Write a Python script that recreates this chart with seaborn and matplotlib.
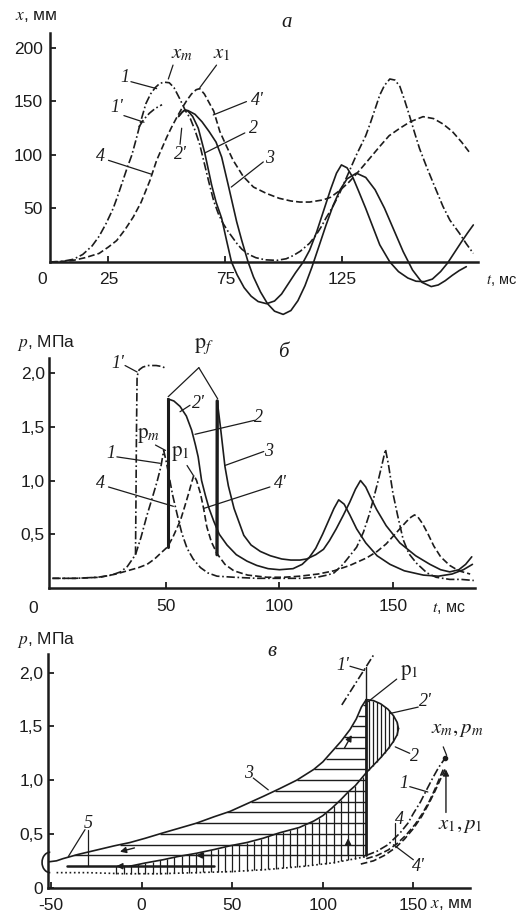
import numpy as np
import matplotlib
matplotlib.use('Agg')
import matplotlib.pyplot as plt
from matplotlib.patches import Arc
import seaborn as sns

# ---------------- panel a: x(t), mm ----------------
t_a1 = [0, 5, 10, 14, 18, 21, 24, 27, 29, 31, 33, 35, 37, 39, 41, 43, 45, 47, 49, 51, 53, 55.6, 58, 60,
        62, 64, 66, 68, 70, 72, 74, 76, 78, 80, 82, 85, 88, 92, 97, 101, 104, 107, 111, 114, 116, 118,
        121, 124, 127, 129, 131, 133, 135, 137, 139, 141, 143, 145.3, 147.5, 149.6, 151.5, 153.8, 156,
        158, 161, 164, 168, 171, 175, 178, 181]
x_a1 = [0, 0.5, 2.5, 7, 15, 24, 36, 50, 62, 75, 88, 100, 116, 133, 148, 157, 163, 167, 168, 167.5, 163,
        152, 141, 134, 123, 110, 92, 74, 57, 45, 36, 29, 23, 17, 12, 7, 4, 2, 1.5, 3, 6, 10, 17.5, 26,
        33, 41, 52, 65, 80, 90, 100, 109, 118, 130, 143, 156, 165, 171, 170, 164, 152, 136, 120, 106,
        89, 73, 52, 39, 27, 17, 8]
t_a1p = [38, 40, 42.5, 45, 47.9]
x_a1p = [126, 133, 139, 143.5, 147]
t_a4 = [0, 5, 10, 15, 21, 25, 28.5, 32, 35.6, 39, 42.7, 45.6, 48, 50, 52, 54.3, 56.5, 58.5, 60.5, 62.5,
        64, 66, 68, 70, 72.6, 75.5, 78.3, 82.6, 87, 92.6, 98, 103, 106.8, 111, 116.8, 120, 124, 128,
        132.5, 136, 141, 145, 149.6, 154, 159.5, 164, 168, 172, 176, 179.5]
x_a4 = [0, 0.5, 1.5, 4, 8, 14, 20, 30, 42, 56, 76, 95, 107, 117, 126, 135.5, 144, 151, 157, 161, 162,
        157, 149, 141, 122, 108, 95, 80, 70, 64, 59.5, 57, 56, 56, 58, 60.5, 67, 75, 86, 95, 108, 118,
        125, 131, 135.8, 134, 129, 122, 112, 102]
t_a2 = [55, 56.5, 57.7, 59, 61, 63.4, 66.2, 69.1, 71, 73.4, 75.5, 77.6, 80, 83, 86, 89, 92.6, 96, 99,
        102, 105, 108.3, 111, 114, 117, 120, 122.5, 124.6, 127, 129.5, 132, 135, 138, 141, 145.3, 149,
        153, 156.5, 160, 163.5, 167, 170, 173, 176, 178.5, 181]
x_a2 = [136, 140, 142, 141, 136, 125, 101.6, 72, 56, 40.8, 20, 0, -12, -24, -32, -37, -39, -36.5, -30,
        -20, -10, 0, 11, 28, 48, 68, 83, 90.7, 88, 79, 66, 50, 33, 16, 0, -9, -15, -18, -18.4, -16, -9,
        -1, 9, 19, 27, 34.6]
t_a3 = [55, 56.5, 57.7, 59, 62, 65, 68, 71, 73.4, 76.2, 79.8, 82, 84.7, 87, 90, 93, 96, 99.7, 103, 106,
        109, 112, 115, 118, 121, 124, 127, 131, 135, 139, 143, 147, 151, 155, 159, 163, 166, 169, 172,
        175, 178]
x_a3 = [136, 140, 142, 141.5, 138, 131, 122, 112, 98, 72, 37.7, 20, 0, -14, -28, -39, -46, -49, -45.4,
        -36.2, -22.3, -4.8, 14.7, 34.3, 52.5, 67.3, 77.7, 83, 79, 67.5, 50.3, 30, 9.7, -7.5, -19, -23,
        -21.5, -17.5, -12.5, -8, -4.4]

# ---------------- panel б: p(t), MPa ----------------
t_b1 = [0, 10, 20, 26, 30, 33, 36.6, 39, 41.7, 44, 46.1, 47.8, 49, 50.2, 51.2, 53, 55, 57, 59.3, 62,
        65.2, 68.5, 72.5, 80, 90, 100, 110, 116.5, 121, 124, 128, 131, 134, 137, 139.5, 141.3, 143.5,
        145.3, 146.7, 148, 150, 152, 154.5, 157, 160.4, 165, 169, 175, 180, 185.6]
p_b1 = [0.09, 0.09, 0.1, 0.12, 0.15, 0.2, 0.31, 0.47, 0.68, 0.84, 0.99, 1.13, 1.28, 1.17, 1.06, 0.86,
        0.68, 0.51, 0.37, 0.27, 0.19, 0.14, 0.11, 0.1, 0.09, 0.09, 0.09, 0.1, 0.12, 0.14, 0.22, 0.3,
        0.38, 0.52, 0.68, 0.82, 1.0, 1.16, 1.29, 1.15, 0.88, 0.68, 0.45, 0.32, 0.23, 0.14, 0.1, 0.08,
        0.08, 0.07]
t_b1p = [36.6, 36.8, 37.0, 37.3, 38.2, 39.8, 42, 45.7, 48.5, 50.1]
p_b1p = [0.31, 0.8, 1.4, 1.97, 2.03, 2.055, 2.07, 2.07, 2.06, 2.04]
t_b4 = [0, 10, 21, 28, 33, 38, 41.7, 45, 48, 50.6, 53, 56.4, 58.3, 60, 61.3, 62.3, 63.5, 65.2, 66.6, 68,
        70, 72.5, 76, 79.9, 86, 94.5, 102, 109, 117, 124, 131, 138.4, 143, 147, 150, 153, 156, 158,
        159.5, 161, 163, 165.5, 168, 171, 175, 179, 184]
p_b4 = [0.09, 0.09, 0.1, 0.13, 0.16, 0.19, 0.22, 0.27, 0.33, 0.38, 0.47, 0.63, 0.76, 0.88, 0.98, 1.05,
        1.0, 0.88, 0.74, 0.57, 0.43, 0.32, 0.22, 0.16, 0.12, 0.1, 0.1, 0.11, 0.13, 0.16, 0.21, 0.28,
        0.34, 0.41, 0.48, 0.55, 0.62, 0.66, 0.68, 0.66, 0.6, 0.5, 0.39, 0.29, 0.21, 0.16, 0.13]
t_b2 = [50.8, 50.8, 53.5, 56.2, 59, 61.3, 63, 64.2, 65.7, 67.4, 69, 71.1, 73.5, 76.9, 81, 85.7, 90, 95,
        100, 106, 110, 113, 116, 119, 121.5, 124, 126.1, 128.5, 131, 134, 138, 143, 148.7, 155, 163.4,
        170, 176, 181, 185]
p_b2 = [0.38, 1.76, 1.74, 1.69, 1.6, 1.47, 1.33, 1.22, 1.0, 0.86, 0.74, 0.62, 0.5, 0.4, 0.31, 0.25,
        0.21, 0.18, 0.17, 0.18, 0.22, 0.28, 0.37, 0.5, 0.62, 0.74, 0.82, 0.78, 0.68, 0.55, 0.42, 0.3,
        0.22, 0.16, 0.12, 0.11, 0.13, 0.17, 0.22]
t_b3 = [72.5, 72.6, 74, 76, 77.5, 80, 84.3, 87.5, 91.6, 96, 101, 105, 109, 112, 116, 119.4, 122, 125,
        128.2, 131, 133.5, 135.7, 138, 140, 142.8, 147, 153, 160, 166.3, 171, 175, 179, 182, 184.7]
p_b3 = [0.31, 1.74, 1.5, 1.13, 0.95, 0.74, 0.49, 0.4, 0.34, 0.3, 0.27, 0.26, 0.26, 0.27, 0.31, 0.36,
        0.44, 0.55, 0.68, 0.8, 0.92, 1.0, 0.94, 0.85, 0.73, 0.58, 0.42, 0.3, 0.22, 0.17, 0.15, 0.17,
        0.22, 0.29]

# ---------------- panel в: p(x) ----------------
x_c3 = [-51.6, -47, -43.5, -35, -25, -15, -6.5, 2, 11.8, 20, 30.2, 40, 48.8, 58, 67.2, 76, 85.6, 95,
        100, 105.8, 110, 115, 118.5, 121.3, 124]
p_c3 = [0.24, 0.25, 0.27, 0.31, 0.35, 0.39, 0.42, 0.46, 0.51, 0.55, 0.6, 0.66, 0.71, 0.78, 0.85, 0.92,
        1.0, 1.1, 1.17, 1.28, 1.36, 1.47, 1.57, 1.68, 1.75]
x_low = [-6.5, 2, 11.8, 20, 30.2, 40, 48.8, 58, 67, 76, 87, 95, 100, 105, 110, 114, 118, 121, 124]
p_low = [0.2, 0.23, 0.26, 0.29, 0.32, 0.355, 0.39, 0.42, 0.46, 0.51, 0.56, 0.62, 0.67, 0.74, 0.82,
         0.89, 0.95, 1.01, 1.07]
x_base = [-47, -30, -10, 10, 30, 50, 70, 90, 105, 115, 124]
p_base = [0.14, 0.14, 0.13, 0.13, 0.14, 0.15, 0.17, 0.2, 0.23, 0.26, 0.29]
x_top2 = [124, 128, 132, 136, 139, 141, 141.8]
p_top2 = [1.75, 1.74, 1.71, 1.66, 1.6, 1.54, 1.48]
x_bot2 = [141.8, 141, 139, 136, 132, 128, 124]
p_bot2 = [1.48, 1.42, 1.36, 1.29, 1.21, 1.14, 1.07]
x_d1 = [124, 130, 136, 142.7, 147, 150, 154, 157.3, 161, 164, 166.5, 167.7]
p_d1 = [0.3, 0.34, 0.4, 0.51, 0.6, 0.69, 0.8, 0.91, 1.03, 1.12, 1.18, 1.21]
x_d4 = [124, 130, 136, 141, 146, 151, 155, 159, 162, 164.5, 166.5]
p_d4 = [0.27, 0.3, 0.35, 0.41, 0.49, 0.59, 0.69, 0.81, 0.92, 1.02, 1.1]
x_d4p = [121, 128, 134, 140, 145, 150, 154.5, 158.5, 162, 165, 167.5]
p_d4p = [0.22, 0.25, 0.3, 0.37, 0.45, 0.55, 0.66, 0.78, 0.9, 1.01, 1.1]
x_jump = 124
p_jump = [0.3, 1.75]
x_1p = [110.5, 129]
p_1p = [1.70, 2.19]
x_m, p_m = 167.7, 1.21

sns.set_theme(style='ticks')
plt.rcParams['font.family'] = ['Liberation Sans', 'DejaVu Sans']
plt.rcParams['mathtext.fontset'] = 'stix'

INK = '#1c1c1c'
DASH = (0, (4, 1.8))
DADO = (0, (5, 1.6, 1, 1.6))
DOT = (0, (1, 1.6))
SERIF = dict(family='Liberation Serif', style='italic', fontsize=13, color=INK)

W, H = 522, 917
fig = plt.figure(figsize=(W / 100, H / 100), dpi=100)


def box(l, r, t, b):
    return fig.add_axes([l / W, 1 - b / H, (r - l) / W, (b - t) / H])


def curve(ax, x, y, ls='-', lw=1.2):
    sns.lineplot(x=x, y=y, ax=ax, color=INK, linestyle=ls, lw=lw, sort=False,
                 estimator=None, legend=False)


def frame(ax):
    sns.despine(ax=ax)
    for s in ('left', 'bottom'):
        ax.spines[s].set_linewidth(1.8)
        ax.spines[s].set_color(INK)
    ax.tick_params(direction='in', length=4, width=1.3, colors=INK, labelsize=12.5)
    ax.set_facecolor('none')
    ax.grid(False)
    ax.set_xlabel('')
    ax.set_ylabel('')


def lab(ax, s, tx, ty, pts=(), **kw):
    style = dict(SERIF)
    style.update(kw)
    ax.text(tx, ty, s, ha='center', va='center', clip_on=False, **style)
    for x0, y0, x1, y1 in pts:
        ax.plot([x0, x1], [y0, y1], color=INK, lw=0.9, clip_on=False)


axa = box(50, 478, 33, 317.6)
axb = box(49, 474.7, 358, 588)
axc = box(47.5, 469.5, 654.4, 887.7)

# ---- a ----
curve(axa, t_a1, x_a1, DADO)
curve(axa, t_a1p, x_a1p, DADO)
curve(axa, t_a4, x_a4, DASH)
curve(axa, t_a2, x_a2)
curve(axa, t_a3, x_a3)
frame(axa)
axa.set_xlim(0, 183)
axa.set_ylim(-52, 214)
axa.spines['bottom'].set_position(('data', 0))
axa.spines['left'].set_bounds(0, 214)
axa.set_xticks([25, 75, 125])
axa.set_yticks([50, 100, 150, 200])
axa.tick_params(axis='x', pad=7)
axa.tick_params(axis='y', pad=5)
axa.text(-3.4, -16, '0', ha='center', va='center', fontsize=12.5, color=INK)
axa.text(-15, 229, '$x$, мм', ha='left', va='center', fontsize=12.5, color=INK, clip_on=False)
axa.text(186.3, -17, '$t$, мс', ha='left', va='center', fontsize=10.5, color=INK, clip_on=False)
lab(axa, 'а', 101.3, 224, fontsize=15)
lab(axa, '1', 32.0, 172, [(34.6, 168.5, 45.6, 162)])
lab(axa, "1'", 28.5, 144, [(31.6, 136.8, 40.2, 130.6)])
lab(axa, '$x_m$', 56.3, 195, [(52.6, 184, 50.6, 171)], style='normal', fontsize=15)
lab(axa, '$x_1$', 73.4, 195, [(71.2, 184, 64.1, 163)], style='normal', fontsize=15)
lab(axa, "4'", 88.6, 151, [(84, 149.9, 69.8, 137.4)])
lab(axa, '2', 87, 125, [(83.3, 120.6, 66.2, 101.9)])
lab(axa, "2'", 55.6, 100, [(55.6, 110, 56.3, 125)])
lab(axa, '3', 94, 97, [(91.2, 93.5, 77.5, 70)])
lab(axa, '4', 21.4, 98.4, [(25, 95, 43.4, 82)])

# ---- б ----
curve(axb, t_b1, p_b1, DADO)
curve(axb, t_b1p, p_b1p, DADO)
curve(axb, t_b4, p_b4, DASH)
curve(axb, t_b2[1:], p_b2[1:])
curve(axb, t_b3[1:], p_b3[1:])
curve(axb, t_b2[:2], p_b2[:2], lw=2.2)
curve(axb, t_b3[:2], p_b3[:2], lw=2.4)
frame(axb)
axb.set_xlim(-1.5, 186)
axb.set_ylim(0, 2.14)
axb.set_xticks([50, 100, 150])
axb.set_yticks([0.5, 1.0, 1.5, 2.0], ['0,5', '1,0', '1,5', '2,0'])
axb.tick_params(axis='x', pad=8)
axb.tick_params(axis='y', pad=3)
axb.text(-8.6, -0.19, '0', ha='center', va='center', fontsize=12.5, color=INK, clip_on=False)
axb.text(-15.6, 2.28, '$p$, МПа', ha='left', va='center', fontsize=12.5, color=INK, clip_on=False)
axb.text(167, -0.19, '$t$, мс', ha='left', va='center', fontsize=11.5, color=INK, clip_on=False)
lab(axb, 'б', 101.5, 2.19, fontsize=15)
lab(axb, "1'", 29, 2.09, [(32, 2.07, 37.3, 2.01)])
lab(axb, r'$\mathrm{p}_f$', 66.6, 2.25, [(64.5, 2.05, 51, 1.78), (64.5, 2.05, 72.8, 1.76)],
    style='normal', fontsize=16)
lab(axb, "2'", 64.4, 1.72, [(60.6, 1.70, 56.2, 1.64)])
lab(axb, '2', 90.9, 1.59, [(89, 1.56, 62.8, 1.43)])
lab(axb, '3', 95.3, 1.27, [(93.1, 1.27, 76, 1.14)])
lab(axb, r'$\mathrm{p}_m$', 42.4, 1.42, [(45.4, 1.33, 49.8, 1.28)], style='normal', fontsize=15)
lab(axb, r'$\mathrm{p}_1$', 56.4, 1.25, [(59.3, 1.14, 62, 1.05)], style='normal', fontsize=15)
lab(axb, '1', 25.6, 1.25, [(28.4, 1.22, 47.5, 1.16)])
lab(axb, '4', 21, 0.97, [(24.7, 0.94, 53.3, 0.76)])
lab(axb, "4'", 100.4, 0.97, [(95.8, 0.94, 66.6, 0.74)])

# ---- в ----
levels = np.arange(0.3, 1.75, 0.1)
axc.hlines(levels, np.interp(levels, p_c3, x_c3), x_jump, color=INK, lw=1.0)
xv = np.arange(-14, 123, 4.0)
axc.vlines(xv, np.interp(xv, x_base, p_base), np.interp(xv, x_low, p_low), color=INK, lw=0.9)
xb = np.arange(125.5, 141.5, 2.2)
axc.vlines(xb, np.interp(xb, x_bot2[::-1], p_bot2[::-1]), np.interp(xb, x_top2, p_top2),
           color=INK, lw=0.9)
curve(axc, x_c3, p_c3)
curve(axc, x_low, p_low)
curve(axc, x_top2, p_top2)
curve(axc, x_bot2, p_bot2)
curve(axc, x_base, p_base, DOT)
curve(axc, [x_jump, x_jump], p_jump, lw=2.0)
curve(axc, [x_jump, x_jump], [1.75, 2.05], lw=1.0)
curve(axc, x_1p, p_1p, DADO)
curve(axc, x_d1, p_d1, DADO)
curve(axc, x_d4, p_d4, DASH)
curve(axc, x_d4p, p_d4p, DASH)
curve(axc, [-41, 40], [0.2, 0.2], lw=1.8)
axc.plot([x_m], [p_m], 'o', color=INK, ms=3)
axc.add_patch(Arc((-50.5, 0.235), 9, 0.19, theta1=70, theta2=290, color=INK, lw=1.2, clip_on=False))
arrow = dict(arrowstyle='-|>', mutation_scale=9, lw=1.0, color=INK, shrinkA=0, shrinkB=0)
axc.annotate('', xy=(-12, 0.335), xytext=(-4, 0.37), arrowprops=arrow)
axc.annotate('', xy=(30, 0.3), xytext=(40, 0.3), arrowprops=arrow)
axc.annotate('', xy=(-14, 0.2), xytext=(-4, 0.2), arrowprops=arrow)
axc.annotate('', xy=(114, 0.46), xytext=(114, 0.3), arrowprops=arrow)
axc.annotate('', xy=(116, 1.42), xytext=(112, 1.3), arrowprops=arrow)
axc.annotate('', xy=(168, 1.1), xytext=(168, 0.70), arrowprops=arrow)
frame(axc)
axc.set_xlim(-52, 181)
axc.set_ylim(0, 2.17)
axc.set_xticks([-50, 0, 50, 100, 150], ['-50', '0', '50', '100', '150'])
axc.set_yticks([0, 0.5, 1.0, 1.5, 2.0], ['0', '0,5', '1,0', '1,5', '2,0'])
axc.tick_params(axis='x', pad=7.5)
axc.tick_params(axis='y', pad=3)
axc.text(-68.9, 2.30, '$p$, МПа', ha='left', va='center', fontsize=12.5, color=INK, clip_on=False)
axc.text(159, -0.16, '$x$, мм', ha='left', va='center', fontsize=12.5, color=INK, clip_on=False)
lab(axc, 'в', 71.8, 2.2, fontsize=15)
lab(axc, "1'", 111.3, 2.07, [(115, 2.06, 123, 2.02)])
lab(axc, r'$\mathrm{p}_1$', 148, 2.0, [(140.8, 1.94, 125, 1.73)], style='normal', fontsize=15)
lab(axc, "2'", 156.4, 1.73, [(152.7, 1.68, 137, 1.62)])
lab(axc, '2', 150.9, 1.22, [(148, 1.25, 140, 1.31)])
lab(axc, '$x_m,p_m$', 174, 1.47, [(166.5, 1.31, 168.4, 1.23)], style='normal', fontsize=15)
lab(axc, '1', 144.5, 0.97, [(148, 0.94, 158, 0.89)])
lab(axc, '$x_1,p_1$', 175.8, 0.58, style='normal', fontsize=15)
lab(axc, '4', 142.6, 0.63, [(139.6, 0.6, 139.6, 0.42)])
lab(axc, "4'", 152.7, 0.2, [(150, 0.26, 139, 0.4)])
lab(axc, '3', 58.9, 1.06, [(61.6, 1.02, 69.9, 0.91)])
lab(axc, '5', -29.5, 0.6, [(-31.3, 0.54, -40.5, 0.29), (-29.5, 0.54, -29.5, 0.2)])

fig.savefig('out.png', dpi=100, facecolor='white')
